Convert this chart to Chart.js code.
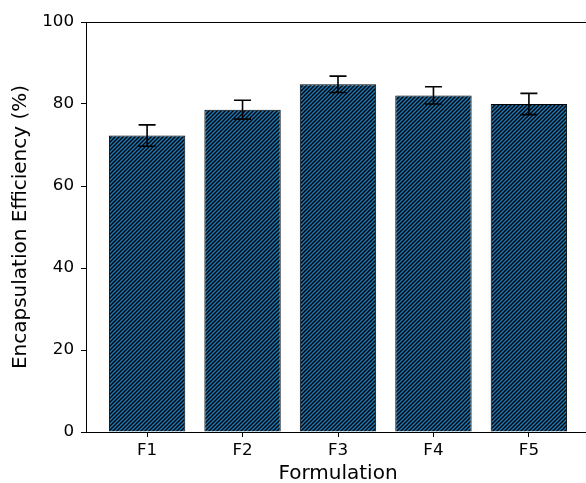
<!DOCTYPE html>
<html>
<head>
<meta charset="utf-8">
<script src="https://cdn.jsdelivr.net/npm/chart.js@4"></script>
<style>
  html, body { margin: 0; padding: 0; background: #fff; overflow: hidden; }
  canvas { display: block; }
</style>
</head>
<body>
<canvas id="myChart" width="600" height="483"></canvas>
<script>
const formulations = ['F1', 'F2', 'F3', 'F4', 'F5'];
const efficiency = [72.3, 78.6, 84.8, 82.1, 80.0];
const errors = [2.6, 2.3, 2.0, 2.1, 2.6];
const yTicks = [0, 20, 40, 60, 80, 100];

const tickFont = { family: 'DejaVu Sans', size: 16.7 };
const labelFont = { family: 'DejaVu Sans', size: 20 };

// hatch '////' on blue
function makeHatch() {
  const c = document.createElement('canvas');
  c.width = 4; c.height = 4;
  const g = c.getContext('2d');
  g.fillStyle = '#1f77b4';
  g.fillRect(0, 0, 4, 4);
  g.strokeStyle = '#000';
  g.lineWidth = 1.3;
  g.beginPath();
  g.moveTo(-1, 5); g.lineTo(5, -1);
  g.moveTo(-1, 1); g.lineTo(1, -1);
  g.moveTo(3, 5); g.lineTo(5, 3);
  g.stroke();
  return g.createPattern(c, 'repeat');
}

const errorBars = {
  id: 'errorBars',
  afterDatasetsDraw(chart) {
    const ctx = chart.ctx;
    const y = chart.scales.y;
    const bars = chart.getDatasetMeta(0).data;
    ctx.save();
    ctx.strokeStyle = '#000';
    ctx.lineWidth = 1.6;
    bars.forEach((bar, i) => {
      const hi = y.getPixelForValue(efficiency[i] + errors[i]);
      const lo = y.getPixelForValue(efficiency[i] - errors[i]);
      ctx.beginPath();
      ctx.moveTo(bar.x, hi); ctx.lineTo(bar.x, lo);
      ctx.moveTo(bar.x - 8.5, hi); ctx.lineTo(bar.x + 8.5, hi);
      ctx.moveTo(bar.x - 8.5, lo); ctx.lineTo(bar.x + 8.5, lo);
      ctx.stroke();
    });
    ctx.restore();
  }
};

const frame = {
  id: 'frame',
  afterDraw(chart) {
    const a = chart.chartArea;
    const ctx = chart.ctx;
    ctx.save();
    ctx.strokeStyle = '#000';
    ctx.lineWidth = 1;
    ctx.strokeRect(Math.round(a.left) + 0.5, Math.round(a.top) + 0.5, a.right - a.left, a.bottom - a.top);
    ctx.restore();
  }
};

const ctx = document.getElementById('myChart');

const chart = new Chart(ctx, {
  type: 'bar',
  data: {
    datasets: [{
      data: efficiency.map((v, i) => ({ x: i, y: v })),
      backgroundColor: makeHatch(),
      borderColor: '#000',
      borderWidth: 1,
      barPercentage: 0.8,
      categoryPercentage: 1.0
    }]
  },
  options: {
    responsive: false,
    animation: false,
    layout: { padding: { top: 22, right: 10, left: 0, bottom: 0 } },
    plugins: { legend: { display: false }, tooltip: { enabled: false } },
    scales: {
      x: {
        type: 'linear',
        offset: false,
        min: -0.64,
        max: 4.64,
        afterBuildTicks: s => { s.ticks = formulations.map((_, i) => ({ value: i })); },
        afterFit: s => { s.height = 51; },
        grid: { offset: false, drawOnChartArea: false, tickLength: 5, color: '#000' },
        border: { color: '#000' },
        ticks: { color: '#000', font: tickFont, padding: 4, maxRotation: 0, callback: v => formulations[v] },
        title: { display: true, text: 'Formulation', color: '#000', font: labelFont, padding: { top: 0, bottom: -3 } }
      },
      y: {
        min: 0,
        max: 100,
        afterBuildTicks: s => { s.ticks = yTicks.map(v => ({ value: v })); },
        afterFit: s => { s.width = 86; },
        grid: { drawOnChartArea: false, tickLength: 5, color: '#000' },
        border: { color: '#000' },
        ticks: { color: '#000', font: tickFont, padding: 7 },
        title: { display: true, text: 'Encapsulation Efficiency (%)', color: '#000', font: labelFont, padding: { top: 9, bottom: 0 } }
      }
    }
  },
  plugins: [errorBars, frame]
});
</script>
</body>
</html>
